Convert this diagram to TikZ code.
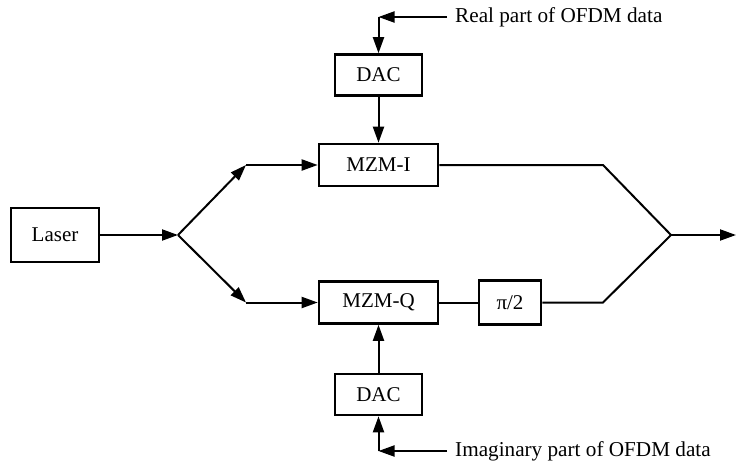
\documentclass[tikz,border=0pt]{standalone}
\usepackage{fontspec}
\setmainfont{Liberation Serif}
\usetikzlibrary{arrows.meta}
\begin{document}
\begin{tikzpicture}[x=1pt,y=-1pt,
  blk/.style={draw,line width=2.6pt,minimum width=#1,inner sep=0pt,
    font=\fontsize{21}{25}\selectfont},
  lbl/.style={inner sep=8pt,font=\fontsize{21.2}{25}\selectfont},
  conn/.style={line width=2pt},
  arr/.style={conn,-{Triangle[length=16pt,width=11pt]}}]
\useasboundingbox (0,0) rectangle (736,463);
\node[blk=88pt,minimum height=54pt] (laser) at (55,235) {Laser};
\node[blk=119pt,minimum height=42pt] (mzmi) at (378.5,165) {MZM-I};
\node[blk=119pt,minimum height=42pt] (mzmq) at (378.5,302.5) {MZM-Q};
\node[blk=62pt,minimum height=44pt] (pi) at (510,302.5) {π/2};
\node[blk=87pt,minimum height=41pt] (dac1) at (378.5,75) {DAC};
\node[blk=87pt,minimum height=41pt] (dac2) at (378.5,394.5) {DAC};
\coordinate (c1) at (378.5,17);
\coordinate (c2) at (378.5,451);
\node[lbl,anchor=west] (t1) at (447,17) {Real part of OFDM data};
\node[lbl,anchor=west] (t2) at (447,451) {Imaginary part of OFDM data};
\coordinate (s) at (178,235);
\coordinate (u1) at (246,165);
\coordinate (l1) at (246,302.5);
\coordinate (u2) at (603,165);
\coordinate (l2) at (603,302.5);
\coordinate (m) at (671,235);
\coordinate (out) at (736,235);
% inputs
\draw[arr] (t1.west) -- (c1);
\draw[arr] (c1) -- (dac1.north);
\draw[arr] (dac1.south) -- (mzmi.north);
\draw[arr] (t2.west) -- (c2);
\draw[arr] (c2) -- (dac2.south);
\draw[arr] (dac2.north) -- (mzmq.south);
% optical path
\draw[arr] (laser.east) -- (s);
\draw[arr] (s) -- (u1);
\draw[arr] (s) -- (l1);
\draw[arr] (u1) -- (mzmi.west);
\draw[arr] (l1) -- (mzmq.west);
\draw[conn] (mzmq.east) -- (pi.west);
\draw[conn,line join=miter] (mzmi.east) -- (u2) -- (m);
\draw[conn,line join=miter] (pi.east) -- (l2) -- (m);
\draw[arr] (m) -- (out);
\end{tikzpicture}
\end{document}
